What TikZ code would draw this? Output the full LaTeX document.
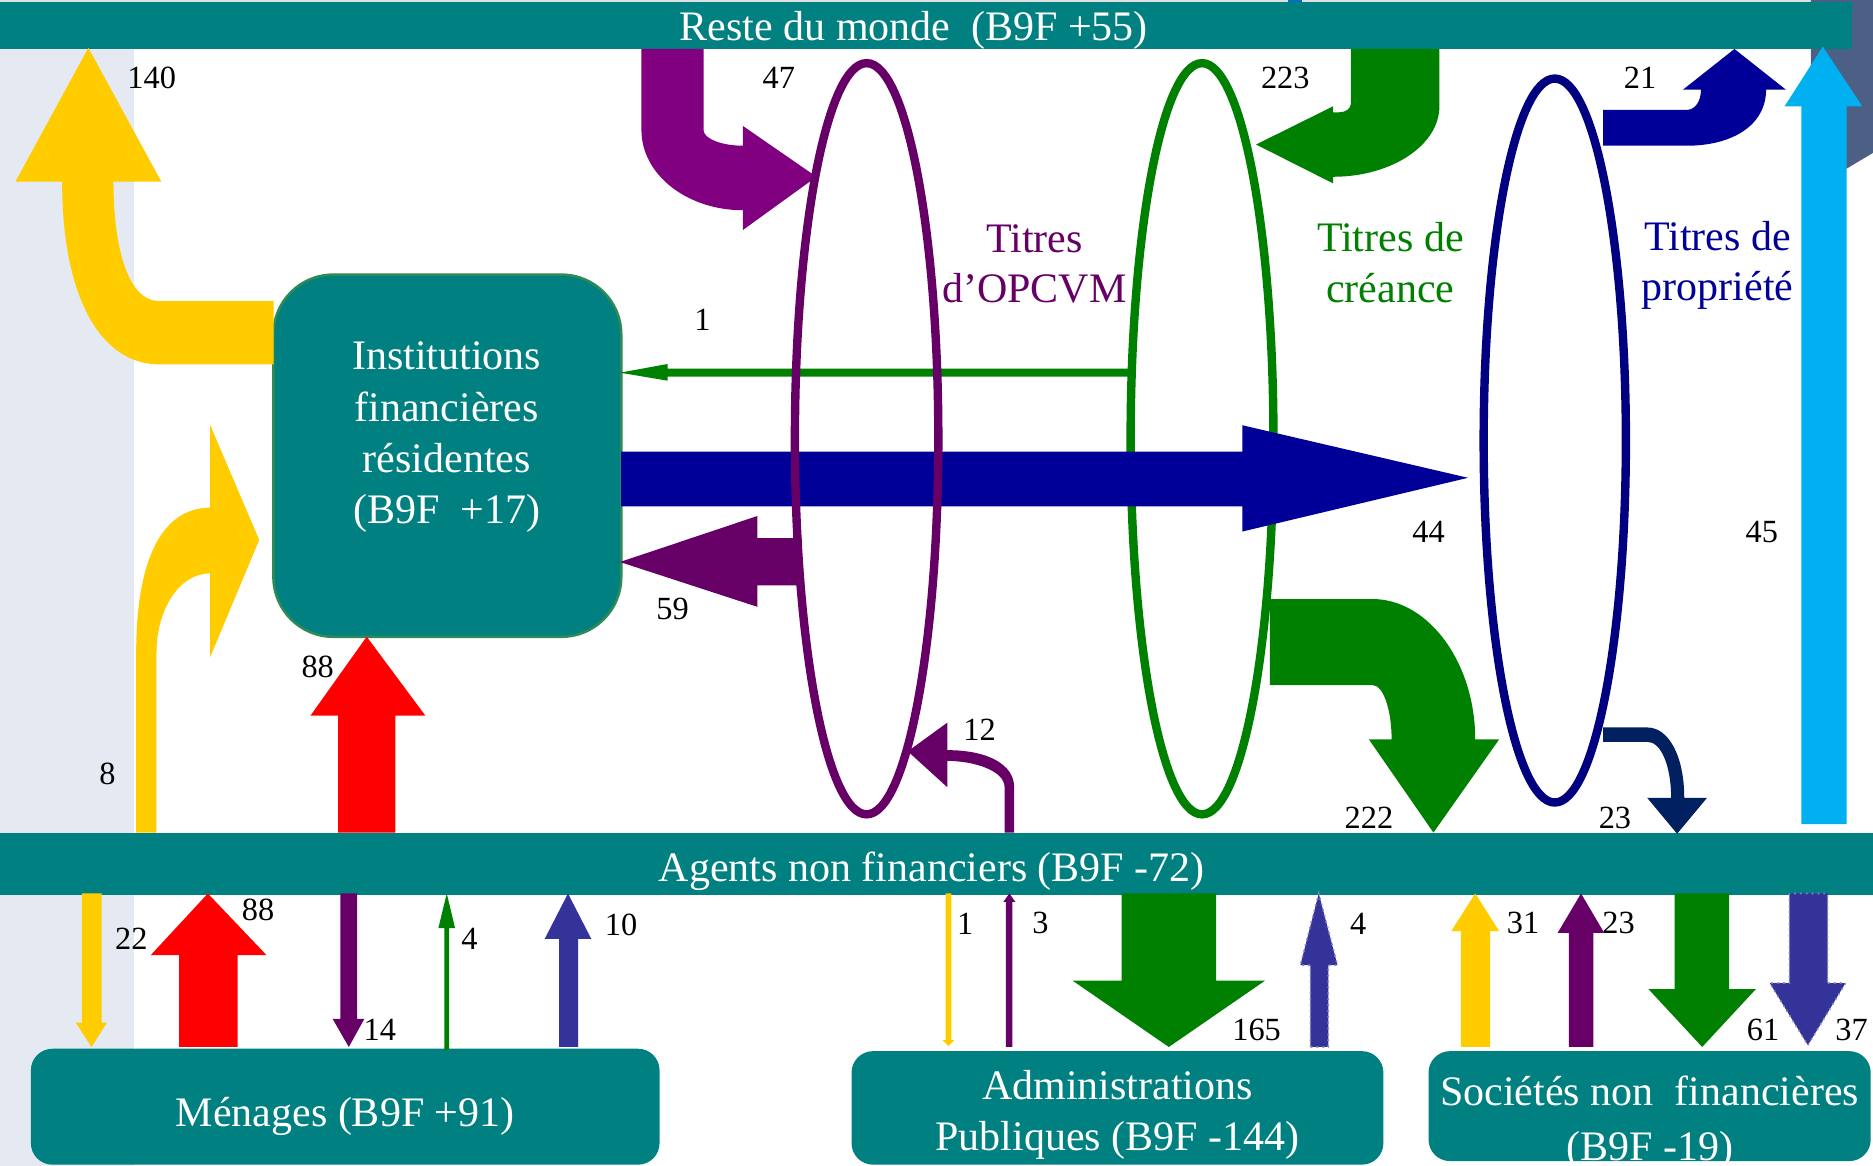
\documentclass[tikz,border=0pt]{standalone}
\usepackage{fontspec}
\setmainfont{Liberation Serif}
\usetikzlibrary{shapes.geometric}
\definecolor{sarcelle}{HTML}{008080}
\definecolor{bordure}{HTML}{2E8B57}
\definecolor{jaune}{HTML}{FFCC00}
\definecolor{rouge}{HTML}{FF0000}
\definecolor{violetA}{HTML}{800080}
\definecolor{violetB}{HTML}{660066}
\definecolor{vert}{HTML}{008000}
\definecolor{marine}{HTML}{000099}
\definecolor{marineB}{HTML}{000080}
\definecolor{nuit}{HTML}{002060}
\definecolor{indigo}{HTML}{333399}
\definecolor{ciel}{HTML}{00B0F0}
\definecolor{fond}{HTML}{E4E9F2}
\definecolor{ardoise}{HTML}{4B6084}
\definecolor{bleuvif}{HTML}{0070C0}

\begin{document}
\begin{tikzpicture}[x=0.01cm,y=-0.01cm,
barre/.style={rectangle,fill=sarcelle,inner sep=0pt},
boite/.style={rectangle,fill=sarcelle,inner sep=0pt,rounded corners=0.18cm},
texte/.style={text=white,align=center,
font=\fontsize{10}{12.2}\selectfont},
titre/.style={align=center,font=\fontsize{10}{12}\selectfont},
anneau/.style={ellipse,draw,line width=2pt,inner sep=0pt},
valeur/.style={inner sep=0pt,font=\fontsize{7.7}{9}\selectfont}
]
\useasboundingbox (0,0) rectangle (1568,976);

% fond
\fill[white] (0,0) rectangle (1568,976);
\fill[fond] (0,41) rectangle (112,976);
\fill[gray!25] (0,0) rectangle (1516,2.2);
\fill[ardoise] (1516,0) -- (1568,0) -- (1568,128) -- (1516,159) -- cycle;
\fill[bleuvif] (1078,0) rectangle (1090,3.5);

% secteurs
\node[barre,minimum width=15.5cm,minimum height=0.39cm] (rdm) at (775,21.5) {};
\node[texte] (rdm-t) at (765,25.5) {Reste du monde\ \ (B9F +55)};
\node[barre,minimum width=15.68cm,minimum height=0.52cm] (anf) at (784,723) {};
\node[texte] (anf-t) at (780,729) {Agents non financiers (B9F -72)};
\node[boite,rounded corners=0.5cm,draw=bordure,line width=0.6pt,
minimum width=2.91cm,minimum height=3.03cm] (ifr) at (374.5,381.5) {};
\node[texte] (ifr-t) at (374,366) {Institutions\\ financières\\ résidentes\\ (B9F\ \ +17)};
\node[boite,minimum width=5.26cm,minimum height=0.97cm] (men) at (289,926.5) {};
\node[texte] (men-t) at (289,934.5) {Ménages (B9F +91)};
\node[boite,minimum width=4.45cm,minimum height=0.95cm] (adm) at (935.5,927.5) {};
\node[texte] (adm-t) at (935.5,933.5) {Administrations\\ Publiques (B9F -144)};
\node[boite,minimum width=3.70cm,minimum height=0.92cm] (snf) at (1381,926) {};
\node[texte,font=\fontsize{10}{13}\selectfont] (snf-t) at (1381,940) {Sociétés non\ \ financières\\ (B9F -19)};

% titres
\node[anneau,draw=vert,minimum width=1.195cm,minimum height=6.285cm] (creance) at (1006.3,367.3) {};
\node[anneau,draw=marineB,minimum width=1.19cm,minimum height=6.057cm] (propriete) at (1301.6,368.8) {};
\node[titre,text=violetB] (t-opcvm) at (866,221) {Titres\\ d’OPCVM};
\node[titre,text=vert] (t-creance) at (1164,220) {Titres de\\ créance};
\node[titre,text=marine] (t-propriete) at (1438,222) {Titres de\\ propriété};

% flux du haut
\fill[jaune] (229,252) -- (133,252) .. controls (108,252) and (95,210) .. (95,152) -- (135,152) -- (74,40) -- (13,152) -- (52,152) .. controls (52,250) and (85,305) .. (133,305) -- (229,305) -- cycle;
\fill[jaune] (114,697) -- (114,547) .. controls (114,460) and (140,425) .. (176,425) -- (176,356) -- (217,452) -- (176,550) -- (176,480) .. controls (150,480) and (131,510) .. (131,547) -- (131,697) -- cycle;
\fill[rouge] (283,697) -- (283,599) -- (260,599) -- (307,533) -- (356,599) -- (331,599) -- (331,697) -- cycle;
\fill[violetA] (537,41) -- (537,109) .. controls (537,146) and (575,176) .. (622,176) -- (622,192.5) -- (683.5,148) -- (622,105.5) -- (622,122) .. controls (604,122) and (589,116) .. (589,109) -- (589,41) -- cycle;
\fill[vert] (1131,41) -- (1131,86) .. controls (1131,91) and (1127,94) .. (1121,94) -- (1116,94) -- (1116,89) -- (1051.5,121) -- (1116,153.5) -- (1116,148) .. controls (1165,148) and (1205,121.5) .. (1205,89) -- (1205,41) -- cycle;
\fill[marine] (1342,92) -- (1412,92) .. controls (1419,92) and (1424,85) .. (1424,75) -- (1409,75) -- (1452,41) -- (1495,75) -- (1478.5,75) .. controls (1478.5,105) and (1450,122) .. (1412,122) -- (1342,122) -- cycle;
\fill[ciel] (1508,690) -- (1508,89) -- (1494,89) -- (1526,39) -- (1559,89) -- (1546,89) -- (1546,690) -- cycle;
\fill[marine] (520,378) -- (1040,378) -- (1040,356) -- (1229,400) -- (1040,445) -- (1040,424) -- (520,424) -- cycle;
\fill[vert] (949,308.5) -- (559,308.5) -- (559,304.7) -- (519,312) -- (559,318.7) -- (559,315.3) -- (949,315.3) -- cycle;
\fill[violetB] (671,450.5) -- (634,450.5) -- (634,432) -- (519,470.5) -- (634,508) -- (634,490) -- (671,490) -- cycle;
\fill[violetB] (841,697) -- (841,659) .. controls (841,645) and (815,637) .. (793,637) -- (793,659) -- (760,629) -- (793,605) -- (793,628) .. controls (827,628) and (849,640) .. (849,659) -- (849,697) -- cycle;
\fill[vert] (1063,501.5) -- (1149,501.5) .. controls (1196,501.5) and (1235,555) .. (1235,619) -- (1255,619) -- (1200,697) -- (1146,619) -- (1165,619) .. controls (1165,594) and (1158,573.5) .. (1149,573.5) -- (1063,573.5) -- cycle;
\fill[nuit] (1342,609) -- (1379,609) .. controls (1397,609) and (1410,633) .. (1410,668) -- (1429,668) -- (1404,698) -- (1379,668) -- (1399,668) .. controls (1399,642) and (1391,621) .. (1379,621) -- (1342,621) -- cycle;

\node[anneau,draw=violetB,minimum width=1.20cm,minimum height=6.285cm] (opcvm) at (725.5,367.3) {};

% flux du bas
\fill[jaune] (68.5,748) -- (68.5,856) -- (63.5,856) -- (76.6,876.5) -- (89.6,856) -- (85,856) -- (85,748) -- cycle;
\fill[rouge] (150,876.5) -- (150,799.5) -- (126.3,799.5) -- (174,748) -- (223,799.5) -- (199,799.5) -- (199,876.5) -- cycle;
\fill[violetB] (285,748) -- (285,853) -- (278.5,853) -- (292,876.5) -- (305,853) -- (299,853) -- (299,748) -- cycle;
\fill[vert] (372,879) -- (372,777) -- (367,777) -- (374,748) -- (381,777) -- (376,777) -- (376,879) -- cycle;
\fill[indigo] (468,876.5) -- (468,786) -- (456,786) -- (475.5,748) -- (495,786) -- (484,786) -- (484,876.5) -- cycle;
\fill[jaune] (791.6,748) -- (791.6,870.7) -- (789,870.7) -- (794,875.7) -- (799,870.7) -- (796.4,870.7) -- (796.4,748) -- cycle;
\fill[violetB] (842,876.5) -- (842,755) -- (840,755) -- (845,748) -- (850,755) -- (847.6,755) -- (847.6,876.5) -- cycle;
\fill[vert] (939,748) -- (939,821) -- (898,821) -- (978.5,876.5) -- (1059,821) -- (1018,821) -- (1018,748) -- cycle;
\filldraw[fill=indigo,draw=indigo!60!white,densely dotted,line width=0.4pt] (1097,876.5) -- (1097,808) -- (1088.6,808) -- (1104,748) -- (1119.7,808) -- (1112,808) -- (1112,876.5) -- cycle;
\fill[jaune] (1223,876.5) -- (1223,779.4) -- (1215,779.4) -- (1235,748) -- (1255,779.4) -- (1247.5,779.4) -- (1247.5,876.5) -- cycle;
\fill[violetB] (1313.5,876.5) -- (1313.5,781) -- (1304,781) -- (1323.6,748) -- (1343,781) -- (1334,781) -- (1334,876.5) -- cycle;
\fill[vert] (1402,748) -- (1402,828) -- (1380,828) -- (1425,876.5) -- (1470,828) -- (1447.5,828) -- (1447.5,748) -- cycle;
\filldraw[fill=indigo,draw=indigo!60!white,densely dotted,line width=0.4pt] (1498,748) -- (1498,823) -- (1481.6,823) -- (1513.5,875) -- (1545,823) -- (1530,823) -- (1530,748) -- cycle;

% valeurs
\node[valeur] (v140) at (127,65) {140};
\node[valeur] (v47) at (652,65) {47};
\node[valeur] (v223) at (1076,65) {223};
\node[valeur] (v21) at (1373,65) {21};
\node[valeur] (v1a) at (588,268) {1};
\node[valeur] (v59) at (563,510) {59};
\node[valeur] (v44) at (1196,445) {44};
\node[valeur] (v45) at (1475,445) {45};
\node[valeur] (v12) at (820,611) {12};
\node[valeur] (v8) at (90,648) {8};
\node[valeur] (v88a) at (266,558) {88};
\node[valeur] (v222) at (1146,685) {222};
\node[valeur] (v23a) at (1352,685) {23};
\node[valeur] (v22) at (110,786) {22};
\node[valeur] (v88b) at (216,762) {88};
\node[valeur] (v14) at (318,862) {14};
\node[valeur] (v4a) at (393,786) {4};
\node[valeur] (v10) at (520,774) {10};
\node[valeur] (v1b) at (808,773) {1};
\node[valeur] (v3) at (871,773) {3};
\node[valeur] (v165) at (1052,862) {165};
\node[valeur] (v4b) at (1137,773) {4};
\node[valeur] (v31) at (1275,773) {31};
\node[valeur] (v23b) at (1355,773) {23};
\node[valeur] (v61) at (1476,862) {61};
\node[valeur] (v37) at (1550,862) {37};

\end{tikzpicture}
\end{document}
